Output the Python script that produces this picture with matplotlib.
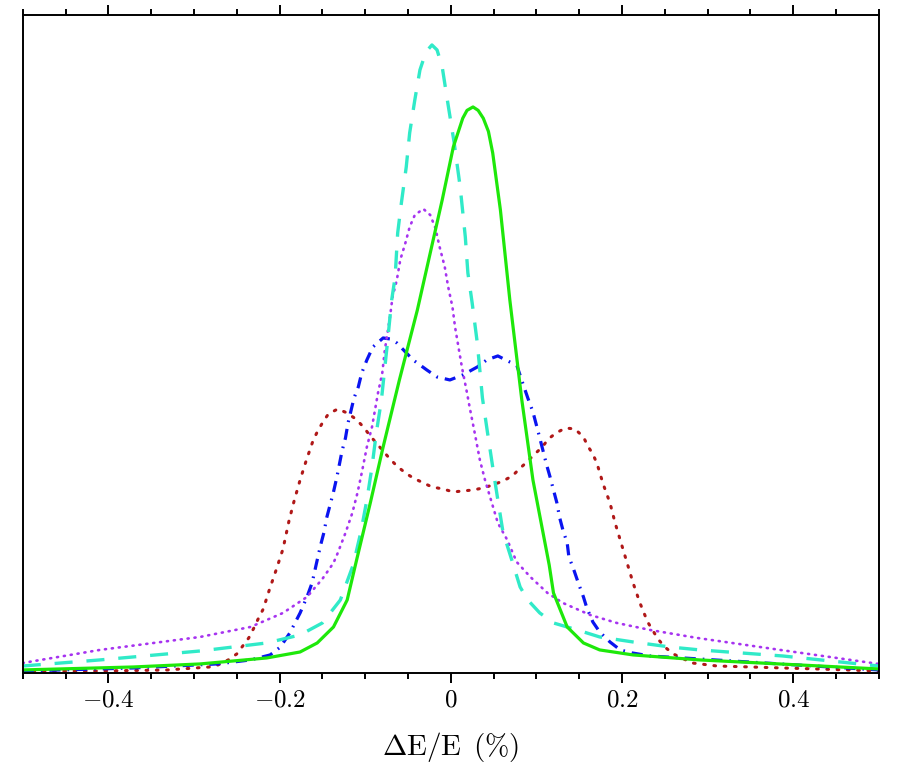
import matplotlib
matplotlib.use('Agg')
import matplotlib.pyplot as plt
from matplotlib.ticker import MultipleLocator, FuncFormatter

plt.rcParams['mathtext.fontset'] = 'cm'
plt.rcParams['lines.scale_dashes'] = False

# Energy spread profiles (dE/E in %, intensity in arbitrary units, axis top = 100)
x_green = [-0.500, -0.371, -0.293, -0.215, -0.176, -0.156, -0.137, -0.121, -0.110, -0.094,
           -0.079, -0.060, -0.039, -0.010, 0.003, 0.014, 0.019, 0.026, 0.032, 0.038,
           0.044, 0.049, 0.058, 0.069, 0.083, 0.096, 0.115, 0.120, 0.136, 0.155,
           0.174, 0.213, 0.291, 0.500]
y_green = [0.46, 0.91, 1.37, 2.28, 3.19, 4.56, 6.99, 11.09, 17.17, 25.84,
           34.35, 44.53, 55.17, 71.88, 79.94, 84.30, 85.50, 86.02, 85.50, 84.30,
           82.30, 79.03, 70.36, 56.69, 41.49, 29.33, 16.41, 12.16, 6.99, 4.56,
           3.50, 2.74, 1.98, 0.61]

x_cyan = [-0.500, -0.410, -0.293, -0.215, -0.176, -0.150, -0.129, -0.114, -0.105, -0.098,
          -0.092, -0.087, -0.081, -0.074, -0.069, -0.065, -0.062, -0.058, -0.052, -0.048,
          -0.042, -0.036, -0.029, -0.022, -0.016, -0.010, -0.004, 0.004, 0.011, 0.017,
          0.020, 0.025, 0.031, 0.037, 0.043, 0.049, 0.055, 0.061, 0.072, 0.081,
          0.090, 0.104, 0.120, 0.148, 0.174, 0.213, 0.256, 0.291, 0.388, 0.500]
y_cyan = [1.06, 1.98, 3.34, 4.56, 5.78, 7.60, 11.09, 16.41, 21.43, 26.29,
          31.31, 36.47, 41.49, 50.15, 56.69, 60.18, 66.87, 71.12, 76.90, 82.07,
          87.08, 91.64, 94.38, 95.44, 94.68, 92.10, 87.08, 80.55, 73.86, 66.26,
          60.79, 56.23, 50.15, 41.79, 36.47, 31.31, 26.29, 21.43, 16.87, 13.07,
          11.09, 9.12, 7.60, 6.53, 5.47, 4.71, 3.95, 3.50, 2.58, 1.06]

x_purple = [-0.500, -0.410, -0.293, -0.234, -0.196, -0.168, -0.150, -0.137, -0.132, -0.123,
            -0.115, -0.109, -0.104, -0.098, -0.092, -0.085, -0.080, -0.077, -0.071, -0.068,
            -0.063, -0.059, -0.053, -0.048, -0.042, -0.032, -0.024, -0.018, -0.013, -0.007,
            -0.003, 0.002, 0.005, 0.009, 0.013, 0.019, 0.022, 0.028, 0.034, 0.040,
            0.048, 0.055, 0.066, 0.077, 0.093, 0.113, 0.131, 0.163, 0.194, 0.233,
            0.288, 0.385, 0.500]
y_purple = [1.52, 3.50, 5.47, 6.99, 9.12, 11.55, 14.29, 16.72, 18.24, 21.28,
            24.32, 27.36, 30.40, 34.35, 37.39, 42.55, 45.59, 49.09, 54.10, 57.14,
            59.73, 62.77, 65.35, 67.78, 69.60, 70.52, 69.60, 67.63, 64.74, 61.70,
            58.66, 55.62, 52.58, 49.54, 46.50, 42.55, 40.43, 36.47, 32.37, 29.33,
            25.84, 22.80, 20.21, 16.87, 14.59, 12.16, 10.64, 8.81, 7.60, 6.53,
            5.32, 3.50, 1.37]

x_blue = [-0.500, -0.371, -0.273, -0.234, -0.211, -0.199, -0.188, -0.176, -0.168, -0.162,
          -0.156, -0.152, -0.148, -0.145, -0.141, -0.137, -0.133, -0.127, -0.123, -0.120,
          -0.113, -0.108, -0.104, -0.098, -0.091, -0.079, -0.071, -0.063, -0.044, -0.028,
          -0.016, -0.001, 0.014, 0.031, 0.042, 0.055, 0.069, 0.077, 0.084, 0.090,
          0.096, 0.104, 0.112, 0.116, 0.120, 0.124, 0.127, 0.131, 0.136, 0.138,
          0.143, 0.149, 0.155, 0.159, 0.166, 0.174, 0.186, 0.198, 0.212, 0.233,
          0.271, 0.385, 0.500]
y_blue = [0.30, 0.76, 1.37, 1.98, 2.74, 3.95, 6.08, 9.12, 11.55, 13.68,
          17.17, 19.45, 21.43, 23.56, 25.53, 27.51, 29.79, 33.74, 35.71, 37.99,
          41.79, 43.47, 45.59, 47.57, 49.54, 50.91, 50.76, 50.15, 47.57, 46.05,
          44.98, 44.53, 45.29, 46.50, 47.57, 48.18, 47.26, 46.81, 44.07, 41.79,
          39.67, 35.71, 31.61, 29.79, 27.81, 25.84, 23.71, 21.73, 19.76, 17.63,
          15.96, 13.68, 11.55, 9.88, 7.75, 6.23, 4.71, 3.50, 3.04, 2.58,
          2.28, 1.37, 0.46]

x_red = [-0.500, -0.410, -0.331, -0.282, -0.272, -0.260, -0.250, -0.243, -0.236, -0.230,
         -0.225, -0.219, -0.212, -0.204, -0.196, -0.189, -0.183, -0.176, -0.169, -0.161,
         -0.156, -0.150, -0.143, -0.132, -0.121, -0.111, -0.102, -0.095, -0.087, -0.072,
         -0.063, -0.053, -0.044, -0.032, -0.022, -0.009, 0.003, 0.014, 0.026, 0.038,
         0.049, 0.061, 0.072, 0.080, 0.089, 0.097, 0.107, 0.114, 0.123, 0.134,
         0.145, 0.155, 0.160, 0.166, 0.171, 0.178, 0.186, 0.192, 0.199, 0.206,
         0.213, 0.221, 0.230, 0.242, 0.250, 0.260, 0.282, 0.311, 0.350, 0.388,
         0.428, 0.500]
y_red = [0.30, 0.30, 0.46, 0.91, 1.22, 1.98, 2.89, 4.10, 5.32, 6.84,
         8.21, 9.73, 12.61, 15.65, 18.84, 23.10, 26.14, 29.33, 32.22, 35.26,
         36.63, 37.99, 39.36, 40.12, 39.51, 38.60, 37.39, 36.17, 34.95, 32.67,
         31.46, 30.40, 29.64, 28.88, 28.27, 27.96, 27.51, 27.66, 27.81, 28.12,
         28.57, 29.18, 29.94, 31.00, 32.07, 33.13, 34.35, 35.56, 36.47, 37.23,
         37.08, 35.87, 34.50, 33.28, 31.76, 28.72, 25.84, 22.80, 19.76, 16.72,
         13.68, 10.64, 7.75, 5.17, 3.95, 2.89, 1.52, 1.06, 0.91, 0.76,
         0.61, 0.30]

fig = plt.figure(figsize=(8.99, 7.67), dpi=100)
ax = fig.add_axes([0.0253, 0.1226, 0.9522, 0.8579])

ax.plot(x_red, y_red, color='#b01818', lw=2.2, dashes=(1.2, 6.2), dash_capstyle='round')
ax.plot(x_blue, y_blue, color='#0a14f0', lw=2.3, dashes=(8, 5, 1.2, 5))
ax.plot(x_purple, y_purple, color='#a633f0', lw=1.9, dashes=(0.8, 4.2), dash_capstyle='round')
ax.plot(x_cyan, y_cyan, color='#30eac8', lw=2.4, dashes=(13, 10))
ax.plot(x_green, y_green, color='#1ee80a', lw=2.3)

ax.set_xlim(-0.5, 0.5)
ax.set_ylim(0, 100)

for s in ax.spines.values():
    s.set_linewidth(1.4)

ax.xaxis.set_major_locator(MultipleLocator(0.2))
ax.xaxis.set_minor_locator(MultipleLocator(0.05))

def fmt(v, pos):
    if abs(v) < 1e-9:
        return r'$0$'
    return r'$%.1f$' % v

ax.xaxis.set_major_formatter(FuncFormatter(fmt))
ax.tick_params(axis='x', which='both', direction='out', top=True, bottom=True,
               width=1.4, labelsize=18, pad=3)
ax.tick_params(axis='x', which='major', length=7.5)
ax.tick_params(axis='x', which='minor', length=4.5)
ax.tick_params(axis='y', left=False, right=False, labelleft=False)

ax.set_xlabel(r'$\Delta\mathrm{E/E}\ \,\mathrm{(\%)}$', fontsize=21, labelpad=13)

fig.savefig('out.png', dpi=100)
